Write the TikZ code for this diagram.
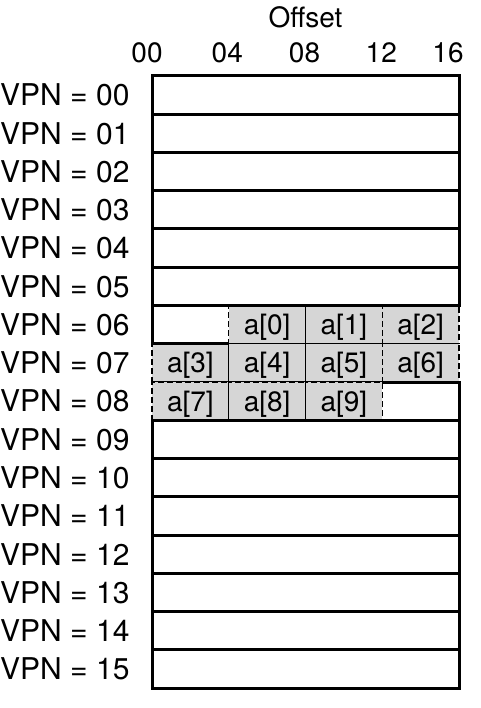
\documentclass[tikz,border=0pt]{standalone}
\usepackage{fontspec}
\setmainfont{TeX Gyre Heros}
\definecolor{cellgray}{gray}{0.84}

\tikzset{
    pagerow/.style={line width=3pt},
    vpnlabel/.style={anchor=west, inner sep=0pt, font=\fontsize{30}{32}\selectfont},
    offlabel/.style={anchor=base, inner sep=0pt, font=\fontsize{28}{30}\selectfont},
    elem/.style={draw, fill=cellgray, line width=1.1pt, dash pattern=on 6pt off 3pt,
        inner sep=0pt, minimum width=\colw pt, minimum height=\rowh pt,
        text height=19.8pt, text depth=0pt, font=\fontsize{28}{30}\selectfont},
}

\begin{document}
\begin{tikzpicture}[x=1pt, y=-1pt]
    \pgfmathsetmacro{\boxleft}{152}
    \pgfmathsetmacro{\boxright}{459}
    \pgfmathsetmacro{\boxtop}{76}
    \pgfmathsetmacro{\colw}{76.75}
    \pgfmathsetmacro{\rowh}{38.25}

    \useasboundingbox (0, 0) rectangle (480, 708);

    \node [offlabel] (offset) at (\boxleft + 2*\colw, 28) {Offset};
    \node [offlabel] (off00) at (147, 63) {00};
    \node [offlabel] (off04) at (\boxleft + \colw - 1.5, 63) {04};
    \node [offlabel] (off08) at (\boxleft + 2*\colw - 1, 63) {08};
    \node [offlabel] (off12) at (\boxleft + 3*\colw - 1, 63) {12};
    \node [offlabel] (off16) at (448, 63) {16};

    % the array
    \node [elem] (a0) at (\boxleft + 1.5*\colw, \boxtop + 6.5*\rowh) {a[0]};
    \node [elem] (a1) at (\boxleft + 2.5*\colw, \boxtop + 6.5*\rowh) {a[1]};
    \node [elem] (a2) at (\boxleft + 3.5*\colw, \boxtop + 6.5*\rowh) {a[2]};
    \node [elem] (a3) at (\boxleft + 0.5*\colw, \boxtop + 7.5*\rowh) {a[3]};
    \node [elem] (a4) at (\boxleft + 1.5*\colw, \boxtop + 7.5*\rowh) {a[4]};
    \node [elem] (a5) at (\boxleft + 2.5*\colw, \boxtop + 7.5*\rowh) {a[5]};
    \node [elem] (a6) at (\boxleft + 3.5*\colw, \boxtop + 7.5*\rowh) {a[6]};
    \node [elem] (a7) at (\boxleft + 0.5*\colw, \boxtop + 8.5*\rowh) {a[7]};
    \node [elem] (a8) at (\boxleft + 1.5*\colw, \boxtop + 8.5*\rowh) {a[8]};
    \node [elem] (a9) at (\boxleft + 2.5*\colw, \boxtop + 8.5*\rowh) {a[9]};

    \draw [pagerow] (\boxleft, \boxtop) rectangle (\boxright, \boxtop + \rowh);
    \draw [pagerow] (\boxleft, \boxtop + \rowh) rectangle (\boxright, \boxtop + 2*\rowh);
    \draw [pagerow] (\boxleft, \boxtop + 2*\rowh) rectangle (\boxright, \boxtop + 3*\rowh);
    \draw [pagerow] (\boxleft, \boxtop + 3*\rowh) rectangle (\boxright, \boxtop + 4*\rowh);
    \draw [pagerow] (\boxleft, \boxtop + 4*\rowh) rectangle (\boxright, \boxtop + 5*\rowh);
    \draw [pagerow] (\boxleft, \boxtop + 5*\rowh) rectangle (\boxright, \boxtop + 6*\rowh);
    \draw [pagerow] (\boxleft, \boxtop + 9*\rowh) rectangle (\boxright, \boxtop + 10*\rowh);
    \draw [pagerow] (\boxleft, \boxtop + 10*\rowh) rectangle (\boxright, \boxtop + 11*\rowh);
    \draw [pagerow] (\boxleft, \boxtop + 11*\rowh) rectangle (\boxright, \boxtop + 12*\rowh);
    \draw [pagerow] (\boxleft, \boxtop + 12*\rowh) rectangle (\boxright, \boxtop + 13*\rowh);
    \draw [pagerow] (\boxleft, \boxtop + 13*\rowh) rectangle (\boxright, \boxtop + 14*\rowh);
    \draw [pagerow] (\boxleft, \boxtop + 14*\rowh) rectangle (\boxright, \boxtop + 15*\rowh);
    \draw [pagerow] (\boxleft, \boxtop + 15*\rowh) rectangle (\boxright, \boxtop + 16*\rowh);

    % free slots beside the array
    \draw [pagerow] (\boxleft, \boxtop + 6*\rowh) -- (\boxleft, \boxtop + 7*\rowh) -- (\boxleft + \colw, \boxtop + 7*\rowh);
    \draw [pagerow] (\boxleft + 3*\colw, \boxtop + 8*\rowh) -- (\boxright, \boxtop + 8*\rowh) -- (\boxright, \boxtop + 9*\rowh);

    \node [vpnlabel] (vpn00) at (0, \boxtop + 0.5*\rowh) {VPN = 00};
    \node [vpnlabel] (vpn01) at (0, \boxtop + 1.5*\rowh) {VPN = 01};
    \node [vpnlabel] (vpn02) at (0, \boxtop + 2.5*\rowh) {VPN = 02};
    \node [vpnlabel] (vpn03) at (0, \boxtop + 3.5*\rowh) {VPN = 03};
    \node [vpnlabel] (vpn04) at (0, \boxtop + 4.5*\rowh) {VPN = 04};
    \node [vpnlabel] (vpn05) at (0, \boxtop + 5.5*\rowh) {VPN = 05};
    \node [vpnlabel] (vpn06) at (0, \boxtop + 6.5*\rowh) {VPN = 06};
    \node [vpnlabel] (vpn07) at (0, \boxtop + 7.5*\rowh) {VPN = 07};
    \node [vpnlabel] (vpn08) at (0, \boxtop + 8.5*\rowh) {VPN = 08};
    \node [vpnlabel] (vpn09) at (0, \boxtop + 9.5*\rowh) {VPN = 09};
    \node [vpnlabel] (vpn10) at (0, \boxtop + 10.5*\rowh) {VPN = 10};
    \node [vpnlabel] (vpn11) at (0, \boxtop + 11.5*\rowh) {VPN = 11};
    \node [vpnlabel] (vpn12) at (0, \boxtop + 12.5*\rowh) {VPN = 12};
    \node [vpnlabel] (vpn13) at (0, \boxtop + 13.5*\rowh) {VPN = 13};
    \node [vpnlabel] (vpn14) at (0, \boxtop + 14.5*\rowh) {VPN = 14};
    \node [vpnlabel] (vpn15) at (0, \boxtop + 15.5*\rowh) {VPN = 15};
\end{tikzpicture}
\end{document}
